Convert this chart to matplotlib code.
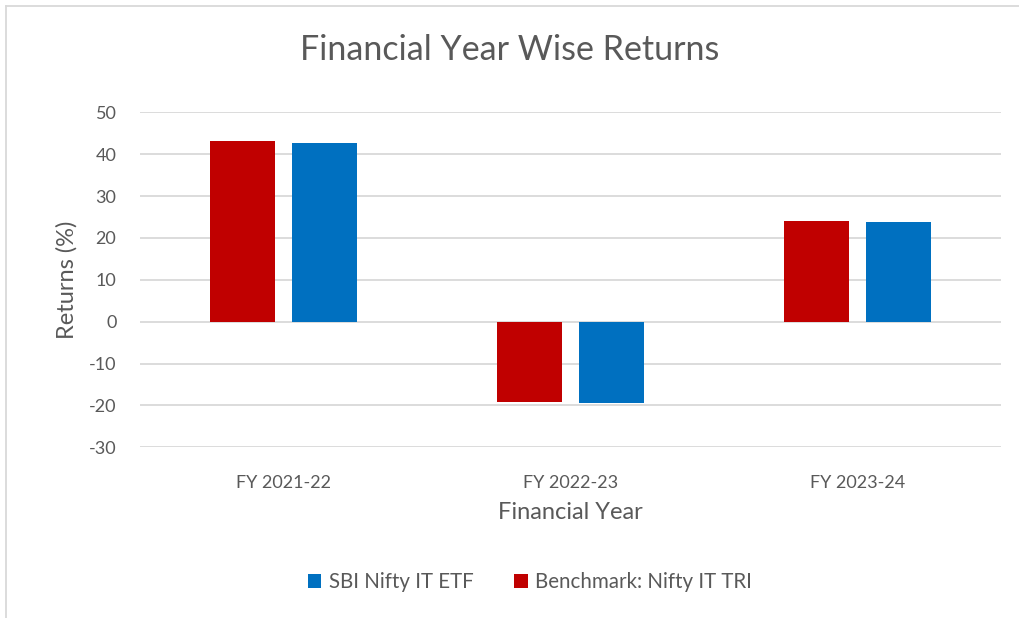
import matplotlib
matplotlib.use("Agg")
import matplotlib.pyplot as plt
from matplotlib.patches import Patch
from matplotlib.lines import Line2D

categories = ["FY 2021-22", "FY 2022-23", "FY 2023-24"]
benchmark = [43.1, -19.2, 24.0]
etf = [42.7, -19.5, 23.7]
yticks = [-30, -20, -10, 0, 10, 20, 30, 40, 50]

RED = "#C00000"
BLUE = "#0070C0"
TXT = "#595959"
GRID = "#D9D9D9"

plt.rcParams["font.family"] = ["Lato", "DejaVu Sans"]

fig = plt.figure(figsize=(10.2, 6.18), dpi=100)
ax = fig.add_axes([140/1020, 1-447.3/618, (1001-140)/1020, (447.3-112.3)/618])

x = list(range(len(categories)))
w = 0.226
off = 0.143
ax.bar([i - off for i in x], benchmark, width=w, color=RED, zorder=3)
ax.bar([i + off for i in x], etf, width=w, color=BLUE, zorder=3)

ax.set_xlim(-0.5, 2.5)
ax.set_ylim(-30, 50)
ax.set_yticks(yticks)
ax.set_yticklabels([str(v) for v in yticks], fontsize=13, color=TXT)
ax.set_xticks(x)
ax.set_xticklabels(categories, fontsize=13, color=TXT)
ax.tick_params(axis="both", length=0)
ax.tick_params(axis="y", pad=17)
ax.tick_params(axis="x", pad=20)
ax.grid(axis="y", color=GRID, linewidth=1.3, zorder=0)
for s in ax.spines.values():
    s.set_visible(False)

ax.set_xlabel("Financial Year", fontsize=17, color=TXT, labelpad=8)
ax.set_ylabel("Returns (%)", fontsize=17, color=TXT, labelpad=8)

fig.text(0.5, 1-50/618, "Financial Year Wise Returns", ha="center", va="center",
         fontsize=24.5, color=TXT)

handles = [Patch(facecolor=BLUE, edgecolor="none"), Patch(facecolor=RED, edgecolor="none")]
leg = fig.legend(handles, ["SBI Nifty IT ETF", "Benchmark: Nifty IT TRI"],
                 loc="center", bbox_to_anchor=(530/1020, 1-582/618), ncol=2,
                 frameon=False, fontsize=14.8, handlelength=0.65, handleheight=0.65,
                 handletextpad=0.35, columnspacing=2.0)
for t in leg.get_texts():
    t.set_color(TXT)

# outer chart border (light gray)
fig.add_artist(Line2D([6/1020, 6/1020], [0, 1-6/618], transform=fig.transFigure,
                      color=GRID, linewidth=1.3))
fig.add_artist(Line2D([6/1020, 1], [1-6/618, 1-6/618], transform=fig.transFigure,
                      color=GRID, linewidth=1.3))

fig.savefig("out.png", dpi=100, facecolor="white")
